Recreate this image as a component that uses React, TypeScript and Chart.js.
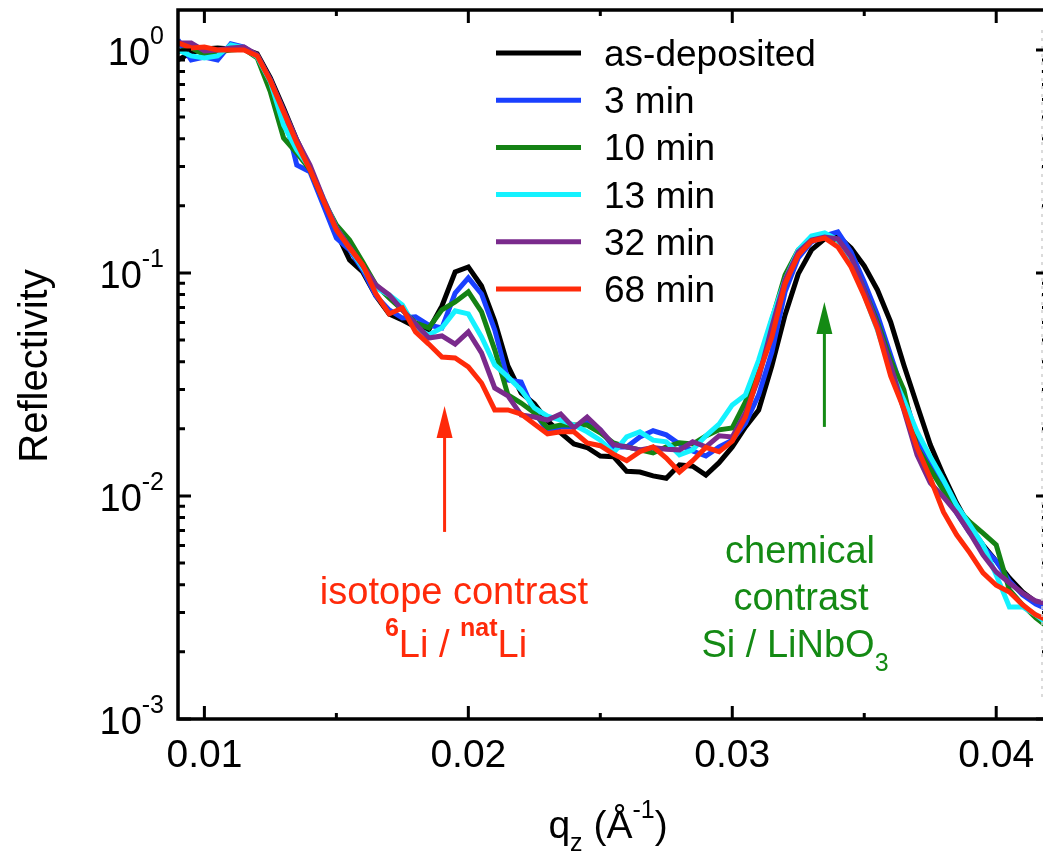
import React, { useEffect, useRef } from "react";
import { Chart, registerables } from "chart.js";

Chart.register(...registerables);

// ---------- data ----------
const qz = [
  0.009, 0.0095, 0.01, 0.0105, 0.011, 0.0115, 0.012, 0.0125, 0.013, 0.0135,
  0.014, 0.0145, 0.015, 0.0155, 0.016, 0.0165, 0.017, 0.0175, 0.018, 0.0185,
  0.019, 0.0195, 0.02, 0.0205, 0.021, 0.0215, 0.022, 0.0225, 0.023, 0.0235,
  0.024, 0.0245, 0.025, 0.0255, 0.026, 0.0265, 0.027, 0.0275, 0.028, 0.0285,
  0.029, 0.0295, 0.03, 0.0305, 0.031, 0.0315, 0.032, 0.0325, 0.033, 0.0335,
  0.034, 0.0345, 0.035, 0.0355, 0.036, 0.0365, 0.037, 0.0375, 0.038, 0.0385,
  0.039, 0.0395, 0.04, 0.0405, 0.041, 0.0415, 0.042,
];

const asDeposited = [
  0.902, 0.97, 1.01, 1.021, 1.01, 1.01, 0.96, 0.749, 0.549, 0.395,
  0.296, 0.2125, 0.1527, 0.1144, 0.101, 0.0788, 0.0655, 0.0615, 0.0573, 0.0555,
  0.0711, 0.101, 0.1064, 0.0874, 0.0609, 0.0383, 0.029, 0.0259, 0.0217, 0.0192,
  0.0171, 0.0165, 0.0151, 0.015, 0.0129, 0.0128, 0.0123, 0.012, 0.0138, 0.0136,
  0.0124, 0.0141, 0.0166, 0.0204, 0.0243, 0.0383, 0.0648, 0.099, 0.1268, 0.1421,
  0.1465, 0.1295, 0.1075, 0.0839, 0.0603, 0.0387, 0.0256, 0.017, 0.0124, 0.0093,
  0.00726, 0.00603, 0.00511, 0.00429, 0.00371, 0.00335, 0.00311,
];

const min3 = [
  1.109, 0.902, 0.93, 0.902, 1.064, 1.031, 0.94, 0.734, 0.527, 0.305,
  0.284, 0.202, 0.1435, 0.1268, 0.1031, 0.0788, 0.0683, 0.0628, 0.0635, 0.0584,
  0.0567, 0.0813, 0.095, 0.0805, 0.0555, 0.0331, 0.0324, 0.0238, 0.0196, 0.0204,
  0.0204, 0.0215, 0.0198, 0.0166, 0.0166, 0.0184, 0.0196, 0.0188, 0.0171, 0.0159,
  0.0151, 0.0166, 0.0178, 0.0212, 0.0284, 0.0442, 0.0822, 0.1168, 0.1377, 0.1465,
  0.1527, 0.1242, 0.0912, 0.0648, 0.0429, 0.0284, 0.0184, 0.0138, 0.01086, 0.00839,
  0.00682, 0.0059, 0.00511, 0.00416, 0.0036, 0.00328, 0.00308,
];

const min10 = [
  0.98, 1.021, 0.95, 0.98, 1.0, 1.01, 0.921, 0.648, 0.403, 0.345,
  0.29, 0.2125, 0.1641, 0.1406, 0.112, 0.0884, 0.0772, 0.0683, 0.0597, 0.0567,
  0.0683, 0.0741, 0.0822, 0.0669, 0.0452, 0.0284, 0.0261, 0.0236, 0.0202, 0.0208,
  0.0208, 0.0208, 0.0192, 0.0173, 0.0166, 0.0161, 0.0156, 0.0166, 0.0173, 0.0171,
  0.0186, 0.0198, 0.0202, 0.0264, 0.0387, 0.0615, 0.098, 0.1268, 0.1406, 0.1435,
  0.1406, 0.1168, 0.0839, 0.0603, 0.0407, 0.0299, 0.0165, 0.0132, 0.0106, 0.00884,
  0.00765, 0.00682, 0.00603, 0.00379, 0.00325, 0.00284, 0.00256,
];

const min13 = [
  1.0, 0.94, 0.921, 0.94, 1.053, 1.021, 0.93, 0.719, 0.461, 0.356,
  0.296, 0.217, 0.159, 0.1295, 0.1053, 0.0857, 0.0797, 0.0719, 0.0567, 0.0527,
  0.0567, 0.0676, 0.0655, 0.0516, 0.0387, 0.0342, 0.0299, 0.0248, 0.0228, 0.0219,
  0.0208, 0.0194, 0.0178, 0.0156, 0.0184, 0.0194, 0.0178, 0.0175, 0.0153, 0.0161,
  0.0186, 0.021, 0.0256, 0.0284, 0.0407, 0.0628, 0.093, 0.1268, 0.1465, 0.1512,
  0.1406, 0.1144, 0.0797, 0.0555, 0.0367, 0.0269, 0.0194, 0.015, 0.0118, 0.0091,
  0.00741, 0.00603, 0.00442, 0.00318, 0.00318, 0.00293, 0.00264,
];

const min32 = [
  1.075, 1.075, 0.99, 1.0, 1.021, 1.031, 0.95, 0.734, 0.538, 0.395,
  0.305, 0.217, 0.159, 0.1308, 0.1075, 0.0884, 0.0797, 0.0683, 0.0591, 0.0511,
  0.0522, 0.048, 0.0544, 0.0438, 0.0305, 0.0281, 0.0231, 0.0226, 0.0219, 0.0233,
  0.0202, 0.0226, 0.0198, 0.017, 0.0166, 0.0161, 0.0165, 0.0162, 0.0161, 0.0175,
  0.0166, 0.0186, 0.0184, 0.0236, 0.0338, 0.0573, 0.093, 0.1242, 0.1406, 0.145,
  0.1421, 0.1181, 0.0839, 0.0584, 0.0387, 0.0243, 0.0153, 0.01144, 0.0099, 0.00839,
  0.00682, 0.00544, 0.00456, 0.00407, 0.00367, 0.00338, 0.00328,
];

const min68 = [
  1.075, 1.021, 1.031, 1.0, 1.0, 1.0, 0.94, 0.726, 0.527, 0.383,
  0.29, 0.2125, 0.1559, 0.1295, 0.1086, 0.0805, 0.0655, 0.0697, 0.0544, 0.048,
  0.042, 0.0416, 0.0379, 0.0321, 0.0243, 0.0243, 0.0233, 0.021, 0.019, 0.0194,
  0.0194, 0.0173, 0.0168, 0.0154, 0.0144, 0.0158, 0.0166, 0.0148, 0.0128, 0.0144,
  0.0165, 0.0158, 0.0176, 0.0226, 0.0352, 0.0516, 0.0893, 0.1204, 0.1391, 0.1435,
  0.1308, 0.1064, 0.0788, 0.0561, 0.0345, 0.0246, 0.0165, 0.01204, 0.00848, 0.0067,
  0.00556, 0.00452, 0.00398, 0.00371, 0.00325, 0.00293, 0.00275,
];

const seriesNames = ["as-deposited", "3 min", "10 min", "13 min", "32 min", "68 min"];
const seriesValues = [asDeposited, min3, min10, min13, min32, min68];
const seriesColors = ["#000000", "#1a40ff", "#148214", "#14f2ff", "#7a2a8c", "#ff2a0a"];

const xMajorTicks = [0.01, 0.02, 0.03, 0.04];
const xMajorLabels = ["0.01", "0.02", "0.03", "0.04"];
const xMinorTicks = [0.015, 0.025, 0.035];
const yMajorTicks = [1, 0.1, 0.01, 0.001];
const yTickExponents = ["0", "-1", "-2", "-3"];

const FONT = '"Liberation Sans", Arial, Helvetica, sans-serif';
const RED_TXT = "#ff2a0a";
const GREEN_TXT = "#148a14";

type Run = { text: string; size: number; bold?: boolean; dy?: number };

function runsWidth(ctx: CanvasRenderingContext2D, runs: Run[]) {
  let w = 0;
  for (const r of runs) {
    ctx.font = `${r.bold ? "bold " : ""}${r.size}px ${FONT}`;
    w += ctx.measureText(r.text).width;
  }
  return w;
}

function drawRuns(
  ctx: CanvasRenderingContext2D,
  runs: Run[],
  x: number,
  y: number,
  align: "left" | "center" | "right",
  color: string
) {
  const w = runsWidth(ctx, runs);
  let cx = align === "left" ? x : align === "center" ? x - w / 2 : x - w;
  ctx.fillStyle = color;
  ctx.textAlign = "left";
  ctx.textBaseline = "alphabetic";
  for (const r of runs) {
    ctx.font = `${r.bold ? "bold " : ""}${r.size}px ${FONT}`;
    ctx.fillText(r.text, cx, y + (r.dy || 0));
    cx += ctx.measureText(r.text).width;
  }
}

function drawArrow(
  ctx: CanvasRenderingContext2D,
  x: number,
  yBottom: number,
  yTip: number,
  color: string
) {
  const headLen = 32;
  const halfW = 8;
  ctx.strokeStyle = color;
  ctx.fillStyle = color;
  ctx.lineWidth = 3;
  ctx.beginPath();
  ctx.moveTo(x, yBottom);
  ctx.lineTo(x, yTip + headLen - 2);
  ctx.stroke();
  ctx.beginPath();
  ctx.moveTo(x, yTip);
  ctx.lineTo(x - halfW, yTip + headLen);
  ctx.lineTo(x + halfW, yTip + headLen);
  ctx.closePath();
  ctx.fill();
}

const overlayPlugin = {
  id: "overlay",
  afterDatasetsDraw(chart: any) {
    const ctx: CanvasRenderingContext2D = chart.ctx;
    const xs = chart.scales.x;
    const ys = chart.scales.y;
    const a = chart.chartArea;
    ctx.save();

    // faint right edge line
    ctx.strokeStyle = "#cfcfcf";
    ctx.lineWidth = 1.5;
    ctx.setLineDash([3, 5]);
    ctx.beginPath();
    ctx.moveTo(1042, a.top + 20);
    ctx.lineTo(1042, a.bottom - 20);
    ctx.stroke();
    ctx.setLineDash([]);

    // frame
    ctx.strokeStyle = "#000";
    ctx.lineWidth = 3.5;
    ctx.lineJoin = "miter";
    ctx.strokeRect(a.left, a.top, a.right - a.left, a.bottom - a.top);

    // x ticks (inward, bottom and top)
    ctx.lineWidth = 3;
    ctx.beginPath();
    for (const v of xMajorTicks) {
      const px = xs.getPixelForValue(v);
      ctx.moveTo(px, a.bottom);
      ctx.lineTo(px, a.bottom - 13);
      ctx.moveTo(px, a.top);
      ctx.lineTo(px, a.top + 13);
    }
    for (const v of xMinorTicks) {
      const px = xs.getPixelForValue(v);
      ctx.moveTo(px, a.bottom);
      ctx.lineTo(px, a.bottom - 6);
      ctx.moveTo(px, a.top);
      ctx.lineTo(px, a.top + 6);
    }
    // y ticks (inward, left and right)
    for (const v of yMajorTicks) {
      const py = ys.getPixelForValue(v);
      ctx.moveTo(a.left, py);
      ctx.lineTo(a.left + 13, py);
      ctx.moveTo(a.right, py);
      ctx.lineTo(a.right - 13, py);
    }
    for (const dec of yMajorTicks) {
      for (let k = 2; k <= 9; k++) {
        const v = dec * k;
        if (v > ys.max) continue;
        const py = ys.getPixelForValue(v);
        ctx.moveTo(a.left, py);
        ctx.lineTo(a.left + 7, py);
        ctx.moveTo(a.right, py);
        ctx.lineTo(a.right - 7, py);
      }
    }
    ctx.stroke();

    // y tick labels
    yMajorTicks.forEach((v, i) => {
      const py = ys.getPixelForValue(v);
      drawRuns(
        ctx,
        [
          { text: "10", size: 38, dy: 15 },
          { text: yTickExponents[i], size: 25, dy: -6 },
        ],
        164,
        py,
        "right",
        "#000"
      );
    });

    // x tick labels
    ctx.font = `39px ${FONT}`;
    ctx.fillStyle = "#000";
    ctx.textAlign = "center";
    ctx.textBaseline = "alphabetic";
    xMajorTicks.forEach((v, i) => {
      ctx.fillText(xMajorLabels[i], xs.getPixelForValue(v), 767);
    });

    // axis titles
    drawRuns(
      ctx,
      [
        { text: "q", size: 39 },
        { text: "z", size: 25, dy: 13 },
        { text: " (Å", size: 39 },
        { text: "-1", size: 25, dy: -20 },
        { text: ")", size: 39 },
      ],
      608,
      838,
      "center",
      "#000"
    );
    ctx.save();
    ctx.translate(47, 366);
    ctx.rotate(-Math.PI / 2);
    ctx.font = `40px ${FONT}`;
    ctx.fillStyle = "#000";
    ctx.textAlign = "center";
    ctx.textBaseline = "alphabetic";
    ctx.fillText("Reflectivity", 0, 0);
    ctx.restore();

    // legend
    seriesNames.forEach((name, i) => {
      const y = 53 + i * 47.2;
      ctx.strokeStyle = seriesColors[i];
      ctx.lineWidth = 5;
      ctx.beginPath();
      ctx.moveTo(496, y);
      ctx.lineTo(581, y);
      ctx.stroke();
      ctx.font = `37px ${FONT}`;
      ctx.fillStyle = "#000";
      ctx.textAlign = "left";
      ctx.textBaseline = "alphabetic";
      ctx.fillText(name, 604, y + 13);
    });

    // arrows (data coordinates)
    drawArrow(
      ctx,
      xs.getPixelForValue(0.0191),
      ys.getPixelForValue(0.0069),
      ys.getPixelForValue(0.0253),
      RED_TXT
    );
    drawArrow(
      ctx,
      xs.getPixelForValue(0.03349),
      ys.getPixelForValue(0.0204),
      ys.getPixelForValue(0.0741),
      GREEN_TXT
    );

    // annotations
    drawRuns(ctx, [{ text: "isotope contrast", size: 38 }], 454, 604, "center", RED_TXT);
    drawRuns(
      ctx,
      [
        { text: "6", size: 25, bold: true, dy: -21 },
        { text: "Li / ", size: 38 },
        { text: "nat", size: 25, bold: true, dy: -21 },
        { text: "Li", size: 38 },
      ],
      456,
      657,
      "center",
      RED_TXT
    );
    drawRuns(ctx, [{ text: "chemical", size: 38 }], 800, 563, "center", GREEN_TXT);
    drawRuns(ctx, [{ text: "contrast", size: 38 }], 801, 610, "center", GREEN_TXT);
    drawRuns(
      ctx,
      [
        { text: "Si / LiNbO", size: 38 },
        { text: "3", size: 25, dy: 14 },
      ],
      795,
      657,
      "center",
      GREEN_TXT
    );

    ctx.restore();
  },
};

export default function App() {
  const canvasRef = useRef<HTMLCanvasElement>(null);

  useEffect(() => {
    const canvas = canvasRef.current;
    if (!canvas) return;
    const datasets = seriesNames.map((name, i) => ({
      label: name,
      data: qz.map((q, j) => ({ x: q, y: seriesValues[i][j] })),
      borderColor: seriesColors[i],
      backgroundColor: seriesColors[i],
      borderWidth: 5,
      pointRadius: 0,
      tension: 0,
      fill: false,
      order: seriesNames.length - 1 - i,
    }));
    const chart = new Chart(canvas, {
      type: "line",
      data: { datasets },
      options: {
        animation: false,
        responsive: false,
        devicePixelRatio: 1,
        layout: { padding: { left: 178, top: 10, right: 3, bottom: 142 } },
        scales: {
          x: { type: "linear", min: 0.009, max: 0.042, display: false },
          y: { type: "logarithmic", min: 0.001, max: 1.51, display: false },
        },
        plugins: {
          legend: { display: false },
          tooltip: { enabled: false },
        },
        elements: {
          point: { radius: 0 },
          line: { borderJoinStyle: "miter" },
        },
      },
      plugins: [overlayPlugin],
    } as any);
    return () => chart.destroy();
  }, []);

  return (
    <div
      style={{
        position: "fixed",
        left: 0,
        top: 0,
        width: 1043,
        height: 861,
        overflow: "hidden",
        background: "#fff",
      }}
    >
      <canvas
        ref={canvasRef}
        width={1052}
        height={861}
        style={{ display: "block", width: 1052, height: 861 }}
      />
    </div>
  );
}
